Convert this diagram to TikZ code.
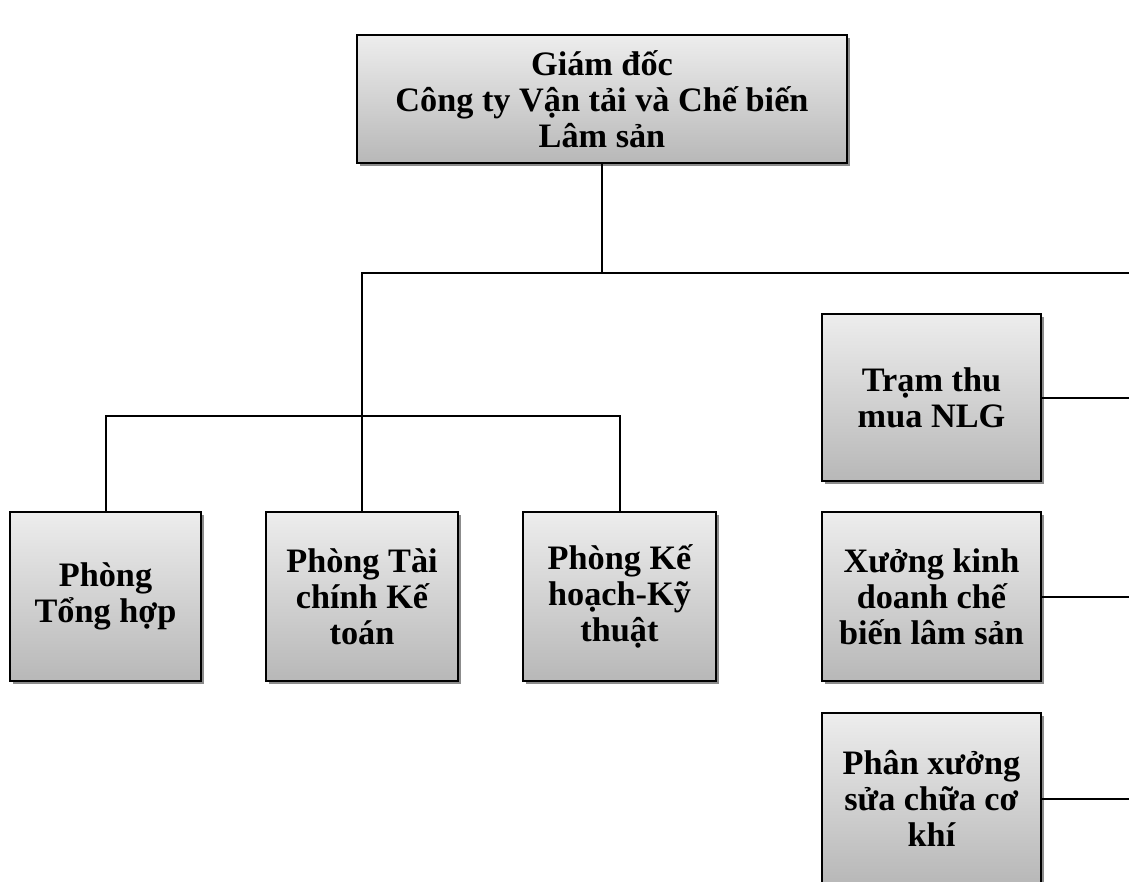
\documentclass[tikz,border=0pt]{standalone}
\usepackage{fontspec}
\setmainfont{Liberation Serif}
\usepackage{tikz}
\usetikzlibrary{calc,shadows}

\tikzset{
	unitbox/.style={draw, line width=0.4mm, align=center, inner sep=0pt,
		font=\bfseries\fontsize{19.5}{20.5}\selectfont,
		top color=black!7, bottom color=black!28,
		drop shadow={shadow xshift=0.6mm, shadow yshift=-0.6mm, fill=black!45, opacity=1}},
	linkline/.style={line width=0.4mm}
}

\begin{document}
\begin{tikzpicture}[x=0.02cm, y=-0.02cm]
			%%%%% START %%%%%
			
			\useasboundingbox (0, 0) rectangle (1129, 882);
			\clip (0, 0) rectangle (1129, 882);
			
			\node[unitbox, minimum width=9.8cm, minimum height=2.56cm] (gd) at (602, 99) {Giám đốc\\Công ty Vận tải và Chế biến\\Lâm sản};
			
			\node[unitbox, minimum width=3.82cm, minimum height=3.38cm] (tonghop) at (105.5, 596.5) {Phòng\\Tổng hợp};
			\node[unitbox, minimum width=3.84cm, minimum height=3.38cm] (taichinh) at (362, 596.5) {Phòng Tài\\chính Kế\\toán};
			\node[unitbox, minimum width=3.86cm, minimum height=3.38cm] (kehoach) at (619.5, 596.5) {Phòng Kế\\hoạch-Kỹ\\thuật};
			
			\node[unitbox, minimum width=4.38cm, minimum height=3.34cm] (tram) at (931.5, 397.5) {Trạm thu\\mua NLG};
			\node[unitbox, minimum width=4.38cm, minimum height=3.38cm] (xuong) at (931.5, 596.5) {Xưởng kinh\\doanh chế\\biến lâm sản};
			\node[unitbox, minimum width=4.38cm, minimum height=3.42cm] (phanxuong) at (931.5, 798.5) {Phân xưởng\\sửa chữa cơ\\khí};
			
			\coordinate (busend) at (1129, 273);
			
			\draw[linkline] (gd.south) |- (busend);
			\draw[linkline] (taichinh.north) |- (busend);
			\draw[linkline] (tonghop.north) -- ++(0, -95) -| (kehoach.north);
			
			\draw[linkline] (tram.east) -- (tram.east -| busend);
			\draw[linkline] (xuong.east) -- (xuong.east -| busend);
			\draw[linkline] (phanxuong.east) -- (phanxuong.east -| busend);
			
			%%%%% END %%%%%
\end{tikzpicture}
\end{document}
